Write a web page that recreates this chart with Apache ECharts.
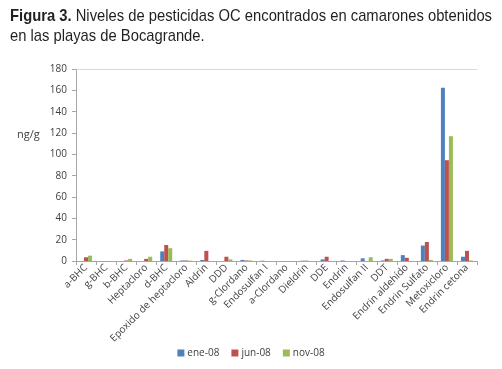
<!DOCTYPE html>
<html>
<head>
<meta charset="utf-8">
<script src="https://cdn.jsdelivr.net/npm/echarts@6/dist/echarts.min.js"></script>
<style>
  html, body { margin: 0; padding: 0; background: #fff; }
  #wrap { position: relative; width: 502px; height: 369px; overflow: hidden; }
  #chart { width: 502px; height: 369px; }
  #title {
    position: absolute; left: 10px; top: 6px;
    font-family: "Liberation Sans", Arial, sans-serif;
    font-size: 17px; line-height: 20px; color: #231f20;
    white-space: nowrap; transform-origin: 0 0;
  }
  #title b { font-weight: bold; }
</style>
</head>
<body>
<div id="wrap">
  <div id="chart"></div>
  <div id="title"><span id="l1"><b>Figura 3.</b> Niveles de pesticidas OC encontrados en camarones obtenidos</span><br>en las playas de Bocagrande.</div>
</div>
<script>
const categories = [
  'a-BHC', 'g-BHC', 'b-BHC', 'Heptacloro', 'd-BHC', 'Epoxido de heptacloro',
  'Aldrin', 'DDD', 'g-Clordano', 'Endosulfan I', 'a-Clordano', 'Dieldrin',
  'DDE', 'Endrin', 'Endosulfan II', 'DDT', 'Endrin aldehído', 'Endrin Sulfato',
  'Metoxicloro', 'Endrin cetona'
];
const ene08 = [0, 0, 0, 0, 9, 0.5, 1, 0, 1, 0.3, 0, 0.3, 1.5, 0.5, 2.5, 0.5, 5.5, 14.5, 162.5, 4];
const jun08 = [3.5, 0, 0.5, 2, 15, 0.5, 9.5, 4, 0.5, 0, 0, 0.3, 4, 0, 0, 2, 3, 17.8, 94.5, 9.5];
const nov08 = [5, 0, 2, 4, 12, 0.3, 0, 1.5, 0.5, 0, 0, 0, 0, 0, 3.5, 2, 0, 1, 117, 0.5];
const yTicks = { min: 0, max: 180, interval: 20 };

// squeeze the caption to the condensed width of the original
const l1 = document.getElementById('l1');
const sx = 482 / l1.getBoundingClientRect().width;
document.getElementById('title').style.transform = 'scaleX(' + sx + ')';

const chart = echarts.init(document.getElementById('chart'));
const axisGray = '#a6a6a6';
const labelColor = '#404040';
const font = 'Open Sans, sans-serif';

chart.setOption({
  animation: false,
  legend: {
    bottom: 6,
    left: 'center',
    itemWidth: 7,
    itemHeight: 7,
    itemGap: 12,
    icon: 'rect',
    textStyle: { fontFamily: font, fontSize: 10, color: labelColor, padding: [0, 0, 0, -2] },
    data: ['ene-08', 'jun-08', 'nov-08']
  },
  graphic: [
    { type: 'text', left: 17, top: 129, style: { text: 'ng/g', font: '11px ' + font, fill: labelColor } }
  ],
  grid: { left: 76, right: 25, top: 69, bottom: 108 },
  xAxis: [
    {
      type: 'category',
      data: categories,
      axisLine: { lineStyle: { color: axisGray } },
      axisTick: { show: true, length: 4, lineStyle: { color: axisGray } },
      axisLabel: { interval: 0, rotate: 45, fontFamily: font, fontSize: 10, color: labelColor, margin: 5 }
    },
    {
      type: 'category',
      data: categories,
      position: 'top',
      axisLine: { lineStyle: { color: '#d9d9d9' } },
      axisTick: { show: false },
      axisLabel: { show: false }
    }
  ],
  yAxis: {
    type: 'value',
    min: yTicks.min,
    max: yTicks.max,
    interval: yTicks.interval,
    axisLine: { show: true, lineStyle: { color: axisGray } },
    axisTick: { show: true, length: 4, lineStyle: { color: axisGray } },
    splitLine: { show: false },
    axisLabel: { fontFamily: font, fontSize: 10, color: labelColor, margin: 9 }
  },
  series: [
    { name: 'ene-08', type: 'bar', data: ene08, itemStyle: { color: '#4f81bd' }, barGap: '0%', barCategoryGap: '40%' },
    { name: 'jun-08', type: 'bar', data: jun08, itemStyle: { color: '#c0504d' }, barGap: '0%', barCategoryGap: '40%' },
    { name: 'nov-08', type: 'bar', data: nov08, itemStyle: { color: '#9bbb59' }, barGap: '0%', barCategoryGap: '40%' }
  ]
});
</script>
</body>
</html>
